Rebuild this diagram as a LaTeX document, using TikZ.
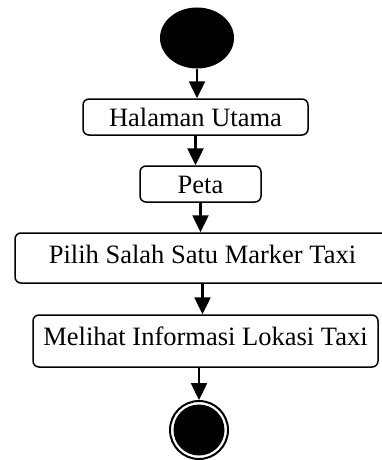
\documentclass[tikz,border=0pt]{standalone}
\usepackage{fontspec}
\setmainfont{Liberation Serif}
\usetikzlibrary{shapes.geometric, arrows.meta, positioning}
\tikzset{
    % Node styles
    actbox/.style={
        rectangle,
        rounded corners=6pt,
        draw=black,
        line width=1.5pt,
        inner xsep=0pt,
        inner ysep=9pt,
        text height=18pt,
        text depth=0pt,
        text centered,
        font=\fontsize{26.5}{30}\selectfont
    },
    widebox/.style={
        actbox,
        text height=21pt,
        text depth=11pt
    },
    startnode/.style={
        ellipse,
        fill=black,
        inner sep=0pt,
        minimum width=74pt,
        minimum height=61pt
    },
    endnode/.style={
        circle,
        draw=black,
        line width=2pt,
        fill=white,
        inner sep=0pt,
        minimum size=58pt
    },
    enddot/.style={
        circle,
        fill=black,
        inner sep=0pt,
        minimum size=51pt
    },
    % Arrow styles
    flow/.style={
        -{Triangle[width=16pt,length=17pt]},
        line width=2.5pt,
        black
    }
}

\begin{document}
\begin{tikzpicture}[x=1pt, y=-1pt]
    \useasboundingbox (0,0) rectangle (381,460);

    % Start and activities
    \node[startnode] (start) at (197,38) {};
    \node[actbox, minimum width=225pt] (home) at (195.5,117) {Halaman Utama};
    \node[actbox, minimum width=121pt] (map) at (200.5,184) {Peta};
    \node[widebox, minimum width=375pt] (marker) at (202.5,258) {Pilih Salah Satu Marker Taxi};
    \node[widebox, text depth=13pt, minimum width=345pt] (info) at (205.5,341) {Melihat Informasi Lokasi Taxi};

    % End
    \node[endnode] (finish) at (199,430) {};
    \node[enddot] (finishdot) at (finish) {};

    % Flow
    \draw[flow] (start.south) -- (start.south |- home.north);
    \draw[flow] (home.south) -- (home.south |- map.north);
    \draw[flow] (map.south) -- (map.south |- marker.north);
    \draw[flow] (marker.south) -- (marker.south |- info.north);
    \draw[flow] (finish |- info.south) -- (finish.north);
\end{tikzpicture}
\end{document}
